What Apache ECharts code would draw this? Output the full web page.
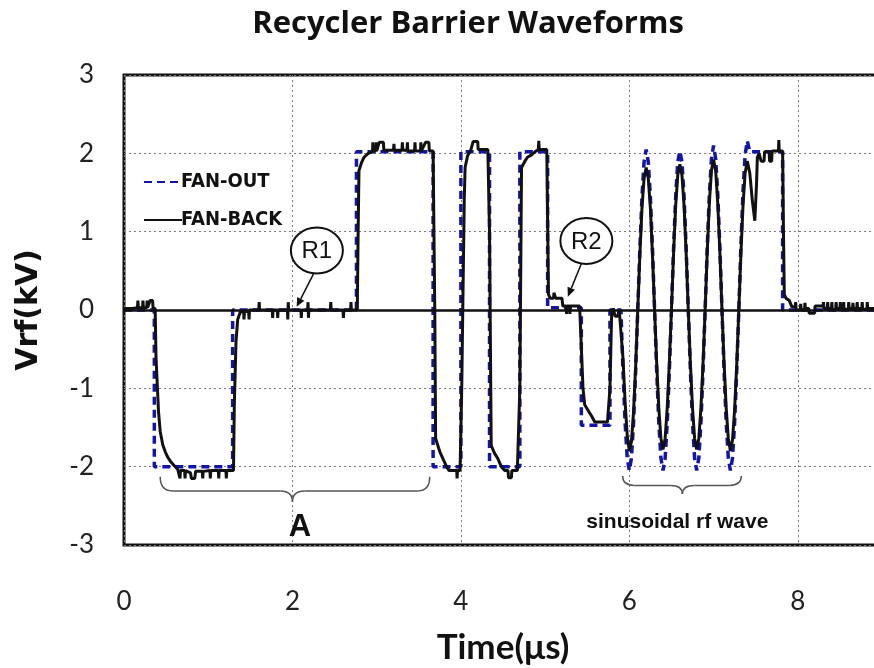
<!DOCTYPE html>
<html>
<head>
<meta charset="utf-8">
<script src="https://cdn.jsdelivr.net/npm/echarts@6/dist/echarts.min.js"></script>
<style>
  html, body { margin: 0; padding: 0; background: #ffffff; }
  #chart { width: 874px; height: 668px; }
</style>
</head>
<body>
<div id="chart"></div>
<script>
// Axis ticks
const xTicks = [0, 2, 4, 6, 8];
const yTicks = [-3, -2, -1, 0, 1, 2, 3];

// FAN-OUT: programmed barrier waveform [time (us), voltage (kV)]
const fanOut = [
  [0, 0], [0.36, 0], [0.36, -2], [1.29, -2], [1.29, 0], [2.76, 0], [2.76, 2.02],
  [3.67, 2.02], [3.67, -2], [4.0, -2], [4.0, 2.02], [4.34, 2.02], [4.34, -2],
  [4.70, -2], [4.70, 2.02], [5.03, 2.02], [5.03, 0.03], [5.43, 0.03], [5.43, -1.47],
  [5.77, -1.47], [5.77, 0], [5.90, 0],
  [5.925, -0.78], [5.95, -1.44], [5.975, -1.89], [6.0, -2.05], [6.025, -1.89], [6.05, -1.44], [6.075, -0.78],
  [6.1, 0], [6.125, 0.78], [6.15, 1.44], [6.175, 1.89], [6.2, 2.05], [6.225, 1.89], [6.25, 1.44], [6.275, 0.78],
  [6.3, 0], [6.325, -0.78], [6.35, -1.44], [6.375, -1.89], [6.4, -2.05], [6.425, -1.89], [6.45, -1.44], [6.475, -0.78],
  [6.5, 0], [6.525, 0.78], [6.55, 1.44], [6.575, 1.89], [6.6, 2.03], [6.625, 1.89], [6.65, 1.44], [6.675, 0.78],
  [6.7, 0], [6.725, -0.78], [6.75, -1.44], [6.775, -1.89], [6.8, -2.05], [6.825, -1.89], [6.85, -1.44], [6.875, -0.78],
  [6.9, 0], [6.925, 0.8], [6.95, 1.47], [6.975, 1.93], [7.0, 2.1], [7.025, 1.93], [7.05, 1.47], [7.075, 0.8],
  [7.1, 0], [7.125, -0.78], [7.15, -1.44], [7.175, -1.89], [7.2, -2.05], [7.225, -1.89], [7.25, -1.44], [7.275, -0.78],
  [7.3, 0], [7.325, 0.83], [7.35, 1.52], [7.375, 1.98], [7.4, 2.16], [7.43, 2.02],
  [7.82, 2.02], [7.82, 0], [9, 0]
];

// FAN-BACK: measured return waveform [time (us), voltage (kV)]
const fanBack = [
  [0, 0.02], [0.1, 0.02], [0.16, 0.03], [0.165, 0.12], [0.17, 0.03], [0.22, 0.03], [0.225, 0.12], [0.23, 0.03],
  [0.27, 0.03], [0.275, 0.12], [0.28, 0.03], [0.31, 0.12], [0.34, 0.12], [0.345, 0.02], [0.37, 0.02],
  [0.38, -0.6], [0.41, -1.3], [0.43, -1.55], [0.46, -1.72], [0.49, -1.81], [0.52, -1.88], [0.55, -1.93],
  [0.6, -1.99], [0.64, -2.04], [0.66, -2.05], [0.665, -2.15], [0.67, -2.05], [0.72, -2.05], [0.725, -2.15],
  [0.73, -2.05], [0.79, -2.08], [0.8, -2.15], [0.84, -2.15], [0.85, -2.06], [0.93, -2.06], [0.935, -2.15],
  [0.94, -2.06], [1.02, -2.05], [1.025, -2.15], [1.03, -2.05], [1.12, -2.05], [1.125, -2.15], [1.13, -2.05],
  [1.21, -2.05], [1.215, -2.15], [1.22, -2.05], [1.3, -2.05],
  [1.31, -1.2], [1.33, -0.4], [1.35, -0.12], [1.37, -0.1], [1.38, -0.03], [1.42, -0.02], [1.425, -0.12],
  [1.43, -0.02], [1.48, -0.02], [1.485, -0.12], [1.49, 0.0], [1.6, 0.0], [1.605, 0.1], [1.61, 0.0],
  [1.76, 0.0], [1.765, -0.1], [1.77, 0.0], [1.82, 0.0], [1.825, -0.1], [1.83, 0.0], [1.94, 0.0],
  [1.945, -0.12], [1.95, 0.1], [1.955, 0.0], [2.1, 0.0], [2.105, -0.1], [2.11, 0.0], [2.18, 0.0],
  [2.185, 0.1], [2.19, -0.1], [2.195, 0.0], [2.45, 0.0], [2.455, 0.1], [2.46, 0.0], [2.6, 0.0],
  [2.605, -0.1], [2.61, 0.0], [2.69, 0.0], [2.695, 0.1], [2.7, 0.0], [2.77, 0.0],
  [2.78, 1.0], [2.79, 1.78], [2.82, 1.88], [2.85, 1.95], [2.9, 2.0], [2.95, 2.02], [2.955, 2.14],
  [2.96, 2.03], [2.99, 2.03], [2.995, 2.14], [3.0, 2.03], [3.03, 2.14], [3.08, 2.14], [3.085, 2.04],
  [3.2, 2.04], [3.205, 2.12], [3.21, 2.04], [3.3, 2.04], [3.305, 2.14], [3.31, 2.04], [3.36, 2.04],
  [3.365, 2.14], [3.37, 2.03], [3.45, 2.03], [3.455, 2.14], [3.46, 2.03], [3.52, 2.03], [3.525, 2.14],
  [3.53, 2.03], [3.58, 2.14], [3.62, 2.14], [3.625, 2.03], [3.67, 2.03],
  [3.69, 0.0], [3.7, -1.64], [3.75, -1.81], [3.8, -1.93], [3.83, -2.0], [3.86, -2.05], [3.95, -2.05],
  [3.955, -2.15], [3.96, -2.05], [3.99, -2.05],
  [4.01, -1.0], [4.04, 1.4], [4.05, 1.82], [4.08, 1.97], [4.12, 2.05], [4.14, 2.05], [4.145, 2.15],
  [4.2, 2.15], [4.205, 2.05], [4.32, 2.05],
  [4.34, 1.0], [4.36, -1.73], [4.4, -1.83], [4.44, -1.9], [4.48, -2.0], [4.52, -2.05], [4.56, -2.05],
  [4.565, -2.14], [4.6, -2.14], [4.605, -2.05], [4.67, -2.05],
  [4.7, -1.0], [4.72, 1.82], [4.76, 1.9], [4.79, 1.95], [4.84, 1.98], [4.88, 2.02], [4.92, 2.05],
  [4.925, 2.16], [4.93, 2.05], [5.02, 2.05],
  [5.04, 0.2], [5.06, 0.15], [5.1, 0.15], [5.105, 0.22], [5.12, 0.22], [5.125, 0.15], [5.2, 0.15],
  [5.21, 0.05], [5.25, 0.05], [5.255, -0.05], [5.26, 0.05], [5.29, 0.05], [5.295, -0.05], [5.3, 0.05],
  [5.41, 0.05],
  [5.43, 0.05], [5.45, -1.0], [5.47, -1.21], [5.52, -1.3], [5.55, -1.35], [5.59, -1.43], [5.74, -1.43],
  [5.77, -1.0], [5.79, -0.05], [5.81, 0.02], [5.83, -0.08], [5.86, -0.08], [5.88, 0.0], [5.9, 0.0],
  [5.925, -0.62], [5.95, -1.18], [5.975, -1.6], [6.0, -1.8], [6.025, -1.68], [6.05, -1.3], [6.075, -0.72],
  [6.1, 0], [6.125, 0.7], [6.15, 1.3], [6.175, 1.68], [6.2, 1.82], [6.225, 1.68], [6.25, 1.3], [6.275, 0.7],
  [6.3, 0], [6.325, -0.68], [6.35, -1.25], [6.375, -1.64], [6.4, -1.78], [6.425, -1.64], [6.45, -1.25], [6.475, -0.68],
  [6.5, 0], [6.525, 0.72], [6.55, 1.33], [6.575, 1.72], [6.6, 1.86], [6.625, 1.72], [6.65, 1.33], [6.675, 0.72],
  [6.7, 0], [6.725, -0.68], [6.75, -1.25], [6.775, -1.64], [6.8, -1.78], [6.825, -1.64], [6.85, -1.25], [6.875, -0.68],
  [6.9, 0], [6.925, 0.74], [6.95, 1.36], [6.975, 1.78], [7.0, 1.92], [7.025, 1.78], [7.05, 1.36], [7.075, 0.74],
  [7.1, 0], [7.125, -0.68], [7.15, -1.25], [7.175, -1.64], [7.2, -1.8], [7.225, -1.66], [7.25, -1.27], [7.275, -0.7],
  [7.3, 0], [7.325, 0.72], [7.35, 1.34], [7.375, 1.75], [7.4, 1.9],
  [7.43, 1.75], [7.46, 1.4], [7.49, 1.14], [7.51, 1.6], [7.52, 1.95], [7.54, 2.0], [7.56, 2.02],
  [7.565, 1.9], [7.6, 1.9], [7.605, 2.02], [7.66, 2.02], [7.665, 1.9], [7.69, 1.9], [7.695, 2.03],
  [7.77, 2.03], [7.775, 2.17], [7.78, 2.03], [7.82, 2.03],
  [7.83, 1.0], [7.84, 0.2], [7.86, 0.15], [7.9, 0.12], [7.93, 0.04], [7.97, 0.04], [7.975, 0.1],
  [7.98, 0.0], [8.03, 0.0], [8.035, 0.08], [8.04, 0.0], [8.08, 0.0], [8.085, 0.09], [8.09, 0.02],
  [8.13, 0.02], [8.135, -0.04], [8.2, -0.04], [8.205, 0.05], [8.3, 0.05], [8.305, 0.1], [8.31, 0.02],
  [8.35, 0.02], [8.355, 0.1], [8.36, 0.02], [8.4, 0.02], [8.405, 0.1], [8.41, 0.0], [8.45, 0.0],
  [8.455, 0.1], [8.46, 0.02], [8.5, 0.02], [8.505, 0.1], [8.51, 0.02], [8.54, 0.02], [8.545, 0.1],
  [8.55, 0.01], [8.6, 0.01], [8.605, 0.1], [8.61, 0.02], [8.65, 0.02], [8.655, 0.09], [8.66, 0.02],
  [8.7, 0.02], [8.705, 0.1], [8.71, 0.02], [8.76, 0.02], [8.765, 0.1], [8.77, 0.01], [8.82, 0.01],
  [8.825, 0.1], [8.83, 0.02], [8.9, 0.02], [9, 0.02]
];

const chart = echarts.init(document.getElementById('chart'), null, { renderer: 'canvas' });

const gridLine = { color: '#7a7a7a', width: 1, type: [2, 3] };

chart.setOption({
  animation: false,
  backgroundColor: '#ffffff',
  title: {
    text: 'Recycler Barrier Waveforms',
    left: 463,
    top: 4,
    textAlign: 'center',
    textStyle: { fontFamily: 'Open Sans', fontWeight: 'bold', fontSize: 31, color: '#111' }
  },
  legend: {
    orient: 'vertical',
    left: 138,
    top: 167,
    itemWidth: 38,
    itemHeight: 14,
    itemGap: 18,
    data: ['FAN-OUT', 'FAN-BACK'],
    itemStyle: { opacity: 0 },
    textStyle: { fontFamily: 'DejaVu Sans Condensed', fontWeight: 'bold', fontSize: 20, color: '#111', padding: [0, 0, 0, -6] }
  },
  grid: {
    left: 124, width: 758, top: 75, bottom: 123,
    outerBoundsMode: 'none',
    show: true, borderColor: '#111', borderWidth: 3, backgroundColor: '#ffffff'
  },
  xAxis: {
    type: 'value', min: 0, max: 9, interval: 2,
    name: 'Time(μs)', nameLocation: 'middle', nameGap: 85,
    nameTextStyle: { fontFamily: 'Lato', fontWeight: 'bold', fontSize: 35, color: '#111' },
    axisLine: { show: false },
    axisTick: { show: false },
    axisLabel: {
      margin: 44, fontFamily: 'Lato', fontSize: 26, color: '#222',
      formatter: v => (xTicks.indexOf(v) >= 0 ? String(v) : '')
    },
    splitLine: { show: true, lineStyle: gridLine }
  },
  yAxis: {
    type: 'value', min: -3, max: 3, interval: 1,
    name: 'Vrf(kV)', nameLocation: 'middle', nameGap: 80, nameRotate: 90,
    nameTextStyle: { fontFamily: 'DejaVu Sans', fontWeight: 'bold', fontSize: 30, color: '#111' },
    axisLine: { show: false },
    axisTick: { show: false },
    axisLabel: {
      margin: 30, fontFamily: 'Lato', fontSize: 26, color: '#222',
      formatter: v => (yTicks.indexOf(v) >= 0 ? String(v) : '')
    },
    splitLine: { show: true, lineStyle: gridLine }
  },
  series: [
    {
      name: 'FAN-OUT', type: 'line', data: fanOut, showSymbol: false, symbol: 'none',
      lineStyle: { color: '#1414a8', width: 3.5, type: [8, 5] },
      itemStyle: { color: '#1414a8' },
      z: 2,
      markLine: {
        silent: true, symbol: 'none', label: { show: false },
        lineStyle: { color: '#111', width: 2.5, type: 'solid' },
        data: [{ yAxis: 0 }]
      }
    },
    {
      name: 'FAN-BACK', type: 'line', data: fanBack, showSymbol: false, symbol: 'none',
      lineStyle: { color: '#111', width: 3, type: 'solid' },
      itemStyle: { color: '#111' },
      z: 3
    }
  ]
});

// Annotations placed in data coordinates, converted to pixels
function px(t, v) { return chart.convertToPixel({ gridIndex: 0 }, [t, v]); }

const braceStyle = { stroke: '#555', lineWidth: 1.5, fill: null };

function quad(x1, y1, cx, cy, x2, y2) {
  return { type: 'bezierCurve', shape: { x1: x1, y1: y1, cpx1: cx, cpy1: cy, x2: x2, y2: y2 }, style: braceStyle, z: 100 };
}
function seg(x1, y1, x2, y2) {
  return { type: 'line', shape: { x1: x1, y1: y1, x2: x2, y2: y2 }, style: braceStyle, z: 100 };
}

// Curly brace opening downward from t1..t2 with its point at tTip
function brace(t1, t2, tTip, vTop, vMid, vTip) {
  const a = px(t1, vTop), b = px(t2, vTop), m = px(tTip, vMid), tip = px(tTip, vTip);
  const ym = m[1], r = 12;
  return [
    quad(a[0], a[1], a[0], ym, a[0] + r, ym),
    seg(a[0] + r, ym, tip[0] - r, ym),
    quad(tip[0] - r, ym, tip[0], ym, tip[0], tip[1]),
    quad(tip[0], tip[1], tip[0], ym, tip[0] + r, ym),
    seg(tip[0] + r, ym, b[0] - r, ym),
    quad(b[0] - r, ym, b[0], ym, b[0], b[1])
  ];
}

// Circled label with an arrow pointing at the waveform
function callout(label, tc, vc, t0, v0, t1, v1) {
  const c = px(tc, vc), s = px(t0, v0), e = px(t1, v1);
  const dx = e[0] - s[0], dy = e[1] - s[1], len = Math.sqrt(dx * dx + dy * dy);
  const ux = dx / len, uy = dy / len, h = 9, w = 4;
  const bx = e[0] - ux * h, by = e[1] - uy * h;
  return [
    { type: 'ellipse', shape: { cx: c[0], cy: c[1], rx: 26, ry: 23 },
      style: { fill: '#fff', stroke: '#111', lineWidth: 2 }, z: 100 },
    { type: 'text', x: c[0], y: c[1] + 1,
      style: { text: label, fill: '#111', font: '24px "Liberation Sans"', align: 'center', verticalAlign: 'middle' }, z: 101 },
    { type: 'line', shape: { x1: s[0], y1: s[1], x2: bx, y2: by },
      style: { stroke: '#111', lineWidth: 1.5 }, z: 100 },
    { type: 'polygon', shape: { points: [[e[0], e[1]], [bx - uy * w, by + ux * w], [bx + uy * w, by - ux * w]] },
      style: { fill: '#111' }, z: 100 }
  ];
}

const aPos = px(2.09, -2.77);
const sPos = px(6.57, -2.71);

chart.setOption({
  graphic: [].concat(
    brace(0.43, 3.63, 2.0, -2.13, -2.31, -2.45),
    brace(5.92, 7.33, 6.63, -2.12, -2.24, -2.35),
    [
      { type: 'text', x: aPos[0], y: aPos[1],
        style: { text: 'A', fill: '#111', font: 'bold 31px "Liberation Sans"', align: 'center', verticalAlign: 'middle' }, z: 100 },
      { type: 'text', x: sPos[0], y: sPos[1],
        style: { text: 'sinusoidal rf wave', fill: '#111', font: 'bold 21px "Liberation Sans"', align: 'center', verticalAlign: 'middle' }, z: 100 }
    ],
    callout('R1', 2.29, 0.76, 2.25, 0.46, 2.05, 0.04),
    callout('R2', 5.49, 0.88, 5.43, 0.59, 5.27, 0.17)
  )
});
</script>
</body>
</html>
